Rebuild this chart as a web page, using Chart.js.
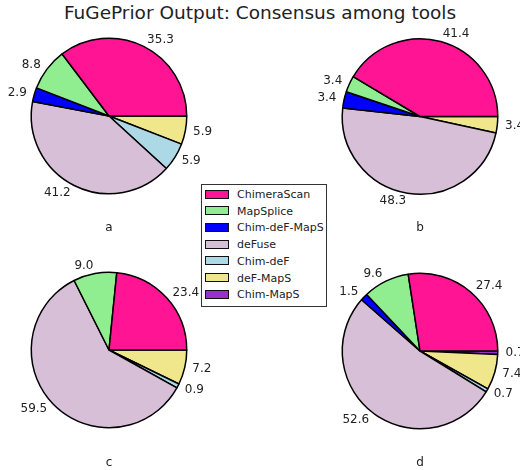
<!DOCTYPE html>
<html lang="en">
<head>
    <meta charset="UTF-8">
    <title>FuGePrior Output</title>
    <script src="https://cdn.jsdelivr.net/npm/chart.js"></script>
    <style>
        body { margin: 0; background: #fff; font-family: "DejaVu Sans", sans-serif; }
        #page { position: relative; width: 520px; height: 470px; overflow: hidden; }
        #title { position: absolute; left: 0; top: 2px; width: 520px; text-align: center; font-size: 18.5px; color: #222; }
        canvas { position: absolute; }
        .sub { position: absolute; width: 40px; text-align: center; font-size: 12px; color: #222; }
        #legend { position: absolute; left: 201px; top: 184px; width: 124px; height: 121px;
                  border: 1px solid #333; background: #fff; z-index: 5; }
        .row { position: absolute; left: 3px; height: 14px; font-size: 11px; line-height: 14px; color: #222; white-space: nowrap; }
        .sw { display: inline-block; width: 22px; height: 7px; border: 1.5px solid #111; vertical-align: middle; margin-right: 8px; margin-top: -2px; }
    </style>
</head>
<body>
<div id="page">
    <div id="title">FuGePrior Output: Consensus among tools</div>
    <div id="legend"></div>
</div>
<script>
// tools, in the order matplotlib draws them (counter-clockwise from 3 o'clock)
const tools = ['ChimeraScan', 'MapSplice', 'Chim-deF-MapS', 'deFuse', 'Chim-deF', 'deF-MapS', 'Chim-MapS'];
const toolColors = ['#ff1493', '#90ee90', '#0000ff', '#d8bfd8', '#add8e6', '#f0e68c', '#9932cc'];

// percentages per panel
const panelA = [35.3, 8.8, 2.9, 41.2, 5.9, 5.9, 0];
const panelB = [41.4, 3.4, 3.4, 48.3, 0, 3.4, 0];
const panelC = [23.4, 9.0, 0, 59.5, 0.9, 7.2, 0];
const panelD = [27.4, 9.6, 1.5, 52.6, 0.7, 7.4, 0.7];
const panelNames = ['a', 'b', 'c', 'd'];

// where each panel sits: canvas box and pie centre inside it
const panels = [
    { data: panelA, left: 0,   top: 0,   cx: 109, cy: 116 },
    { data: panelB, left: 260, top: 0,   cx: 160, cy: 116.5 },
    { data: panelC, left: 0,   top: 235, cx: 109, cy: 115 },
    { data: panelD, left: 260, top: 235, cx: 160, cy: 116 }
];
const W = 260, H = 235, R = 78.5;

// value labels outside the wedges, like matplotlib labeldistance=1.1
const outerLabels = {
    id: 'outerLabels',
    afterDatasetsDraw(chart) {
        const ctx = chart.ctx;
        const meta = chart.getDatasetMeta(0);
        const vals = chart.data.datasets[0].data;
        ctx.save();
        ctx.font = '12px "DejaVu Sans"';
        ctx.fillStyle = '#222';
        ctx.textBaseline = 'middle';
        meta.data.forEach((arc, i) => {
            if (!vals[i]) return;
            const mid = (arc.startAngle + arc.endAngle) / 2;
            const r = arc.outerRadius * 1.1;
            const x = arc.x + r * Math.cos(mid);
            const y = arc.y + r * Math.sin(mid);
            ctx.textAlign = Math.cos(mid) >= 0 ? 'left' : 'right';
            ctx.fillText(vals[i].toFixed(1), x, y);
        });
        ctx.restore();
    }
};

const page = document.getElementById('page');

panels.forEach((p, k) => {
    const cv = document.createElement('canvas');
    cv.width = W; cv.height = H;
    cv.style.left = p.left + 'px';
    cv.style.top = p.top + 'px';
    page.appendChild(cv);

    // Chart.js goes clockwise, so feed the slices reversed and start at 3 o'clock
    new Chart(cv.getContext('2d'), {
        type: 'pie',
        data: {
            labels: tools.slice().reverse(),
            datasets: [{
                data: p.data.slice().reverse(),
                backgroundColor: toolColors.slice().reverse(),
                borderColor: '#000',
                borderWidth: 1.5
            }]
        },
        options: {
            responsive: false,
            animation: false,
            rotation: 90,
            layout: {
                padding: {
                    left: p.cx - R,
                    right: W - p.cx - R,
                    top: p.cy - R,
                    bottom: H - p.cy - R
                }
            },
            plugins: {
                legend: { display: false },
                tooltip: { enabled: false }
            }
        },
        plugins: [outerLabels]
    });

    const lab = document.createElement('div');
    lab.className = 'sub';
    lab.textContent = panelNames[k];
    lab.style.left = (p.left + p.cx - 20) + 'px';
    lab.style.top = (p.top + 220) + 'px';
    page.appendChild(lab);
});

// shared legend in the middle
const legend = document.getElementById('legend');
tools.forEach((t, i) => {
    const row = document.createElement('div');
    row.className = 'row';
    row.style.top = (3 + i * 16.7) + 'px';
    row.innerHTML = '<span class="sw" style="background:' + toolColors[i] + '"></span>' + t;
    legend.appendChild(row);
});
</script>
</body>
</html>
